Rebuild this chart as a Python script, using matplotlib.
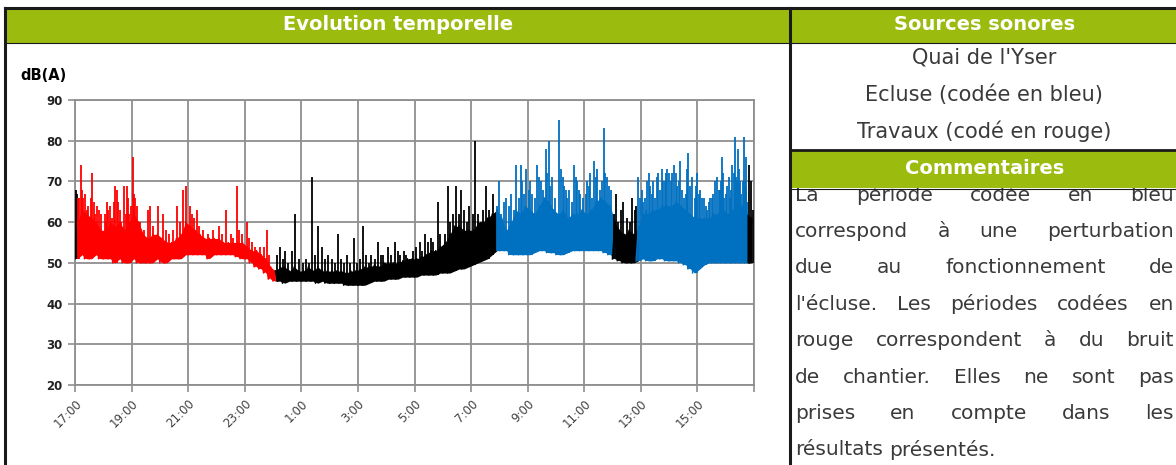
import matplotlib.pyplot as plt
import numpy as np
from matplotlib.lines import Line2D
from matplotlib.patches import Rectangle

# noise band, one value per 10 minutes starting at 17:00 (dB(A))
band_low = [51, 52, 51, 51, 52, 51,  51, 51, 50, 51, 50, 50,  51, 50, 50, 50, 50, 51,
            50, 50, 51, 51, 51, 52,  52, 52, 52, 52, 51, 52,  52, 52, 52, 52, 51.5, 51,
            51, 50, 49, 48.5, 47.5, 46,  45.5, 45.5, 45, 45.5, 45.5, 45.5,
            45.5, 45.5, 45.5, 45, 45.5, 45,  45, 45, 45, 44.5, 44.5, 44.5,
            44.5, 44.5, 45, 45.5, 45.5, 45.5,  46, 46, 46, 46.5, 46.5, 46.5,
            46.5, 47, 47, 47, 47, 47.5,  47.5, 47.5, 48, 48.5, 48.5, 49,
            49.5, 50, 50.5, 51, 52, 53,  53, 53, 52, 52, 52, 52,
            52, 52.5, 53, 53, 52.5, 52.5,  52, 52, 52.5, 53, 53, 53,
            53, 53, 53, 53, 52.5, 52,  51, 50.5, 50, 50, 50, 50.5,
            51, 50.5, 50.5, 51, 51, 50.5,  50.5, 50.5, 50, 49.5, 48.5, 47.5,
            48.5, 49.5, 50, 50, 50, 50,  50, 50, 50, 50, 50, 50]
band_top = [60, 63, 62, 61, 60, 58,  58, 60, 59, 60, 58, 60,  62, 60, 57, 56, 57, 57,
            56, 55, 55, 56, 57, 60,  59, 58, 57, 56, 56, 56,  56, 55, 55, 55, 55, 55,
            54, 53, 53, 52, 51, 49,  48, 49, 49, 48, 49, 48,
            48, 49, 48, 49, 48, 48,  48, 48, 48, 47.5, 48, 48,
            48.5, 49, 49, 49.5, 49, 50,  50, 50, 50, 50.5, 51, 51,
            51, 51.5, 52, 53, 53, 54,  55, 57, 59, 59, 58, 58,
            58, 60, 60, 61, 62, 63,  61, 58, 60, 63, 62, 64,
            63, 62, 64, 66, 65, 63,  62, 63, 61, 62, 62, 63,
            62, 63, 65, 66, 65, 64,  60, 58, 57, 58, 57, 59,
            62, 62, 63, 63, 64, 64,  64, 65, 64, 63, 62, 61,
            61, 61, 61, 62, 62, 63,  62, 63, 64, 64, 62, 61]

# single peaks: minutes after 17:00 and level
peak_min = [2, 4, 6, 12, 18, 22, 28, 36, 40, 47, 51, 55,
            63, 68, 74, 79, 85, 89, 95, 103, 108, 113, 118,
            122, 125, 128, 132, 137, 146, 154, 160, 166, 175,
            187, 193, 200, 208, 216, 222, 230, 236,
            243, 248, 253, 258, 264, 272, 282, 292,
            305, 312, 321, 330, 336, 343, 348, 354,
            364, 368, 375, 382, 393, 400, 407, 412,
            428, 435, 441, 445, 452, 460, 467, 474,
            484, 490, 496, 502, 508, 515, 523, 530, 536,
            545, 551, 558, 565, 571, 577, 584, 592, 597,
            604, 611, 617, 624, 628, 636, 643, 648, 653, 657,
            663, 670, 678, 684, 690, 697, 703, 710, 716,
            724, 731, 736, 742, 748, 754, 760, 769, 775,
            784, 790, 796, 801, 808, 814, 819, 825, 831, 836,
            844, 849, 855, 860, 866, 872, 878, 886,
            896, 900, 910, 918, 925, 930, 935, 941, 946, 953, 957,
            963, 969, 975, 980, 988, 993, 998, 1005, 1012, 1017,
            1022, 1027, 1034, 1041, 1048, 1053, 1058, 1065, 1072, 1077,
            1083, 1090, 1096, 1101, 1108, 1114, 1122, 1129, 1136,
            1143, 1147, 1152, 1158, 1163, 1170, 1176, 1181, 1187, 1190, 1194, 1198,
            1205, 1211, 1217, 1223, 1229, 1234, 1240, 1245, 1251, 1256,
            1264, 1270, 1277, 1284, 1295, 1301, 1309, 1314, 1319,
            1326, 1333, 1338, 1344, 1350, 1354, 1362, 1367, 1372, 1377,
            1383, 1389, 1394, 1400, 1404, 1408, 1413, 1418, 1422, 1426, 1430, 1434, 1438,
            9, 15, 25, 33, 43, 65, 71, 82, 92, 98, 110, 115,
            904, 914, 921, 949, 966, 984, 1001, 1008,
            1031, 1037, 1044, 1062, 1069, 1086, 1093, 1105, 1118, 1125, 1132,
            1202, 1208, 1214, 1220, 1226, 1237, 1248, 1253, 1259,
            1267, 1274, 1280, 1287, 1291, 1298, 1305, 1316,
            1323, 1330, 1341, 1347, 1357, 1365, 1369, 1375, 1380,
            1386, 1392, 1397, 1402, 1406, 1411, 1416, 1420, 1424]
peak_db = [68, 67, 66, 74, 66, 67, 64, 72, 65, 64, 63, 62,
           62, 65, 64, 61, 69, 68, 63, 69, 62, 66, 64,
           76, 67, 66, 64, 60, 58, 63, 64, 59, 64,
           62, 58, 57, 58, 64, 60, 68, 69,
           64, 62, 61, 63, 59, 58, 57, 58,
           59, 57, 63, 57, 56, 69, 58, 57,
           60, 56, 55, 54, 54, 54, 58, 52,
           52, 54, 51, 53, 50, 53, 62, 51,
           50, 51, 50, 71, 52, 59, 54, 51, 52,
           51, 50, 57, 51, 50, 52, 50, 56, 50,
           51, 59, 52, 50, 52, 51, 55, 52, 52, 50,
           54, 52, 55, 53, 52, 53, 52, 51, 53,
           54, 55, 53, 57, 55, 56, 55, 65, 57,
           57, 69, 60, 62, 69, 62, 68, 63, 60, 64,
           62, 80, 62, 60, 63, 69, 63, 67,
           64, 70, 65, 58, 67, 63, 74, 66, 74, 67, 73,
           68, 67, 66, 74, 70, 68, 78, 80, 71, 66,
           62, 85, 71, 68, 68, 65, 74, 70, 67, 66,
           67, 69, 66, 75, 73, 68, 83, 71, 68,
           62, 67, 60, 63, 65, 61, 60, 66, 63, 64, 71, 66,
           65, 63, 72, 67, 66, 71, 68, 73, 70, 73,
           70, 74, 69, 75, 67, 77, 71, 66, 72,
           68, 66, 64, 65, 66, 67, 71, 68, 76, 66,
           69, 66, 74, 81, 70, 73, 67, 81, 76, 65, 74, 70, 63,
           66, 68, 63, 66, 62, 60, 63, 65, 65, 60, 69, 62,
           62, 66, 64, 70, 70, 71, 72, 69,
           73, 69, 66, 71, 68, 70, 72, 71, 70, 72, 69,
           68, 66, 70, 69, 70, 72, 70, 72, 72,
           72, 72, 70, 68, 66, 73, 69, 69,
           67, 66, 63, 66, 70, 68, 70, 72, 67,
           71, 68, 72, 71, 78, 70, 70, 70, 69]

# colour coding: black = measurement, red = works, blue = lock
period_start = [0, 6, 424, 893, 1141, 1192, 1428]
period_end = [6, 424, 893, 1141, 1192, 1428, 1440]
period_colour = ['black', 'red', 'black', '#0070c0', 'black', '#0070c0', 'black']

hour_labels = ['17:00', '19:00', '21:00', '23:00', '1:00', '3:00',
               '5:00', '7:00', '9:00', '11:00', '13:00', '15:00', '']

sources = ["Quai de l'Yser", "Ecluse (codée en bleu)", "Travaux (codé en rouge)"]
comment_lines = ["La période codée en bleu",
                 "correspond à une perturbation",
                 "due au fonctionnement de",
                 "l'écluse. Les périodes codées en",
                 "rouge correspondent à du bruit",
                 "de chantier. Elles ne sont pas",
                 "prises en compte dans les",
                 "résultats présentés."]

W, H = 1176, 465
GREEN = '#9cbb0f'
TXT = '#3a3a3a'


def px(x, y):
    return x / W, 1 - y / H


fig = plt.figure(figsize=(W / 100, H / 100), dpi=100)
fig.patch.set_facecolor('white')

# ---- table frame
for x0, y0, x1, y1 in [(5, 9, 790, 43), (790, 9, 1180, 43), (790, 151, 1180, 188)]:
    fig.add_artist(Rectangle(px(x0, y1), (x1 - x0) / W, (y1 - y0) / H,
                             transform=fig.transFigure, facecolor=GREEN,
                             edgecolor='none', zorder=5))
for xs, ys, lw in [([5, 1180], [8, 8], 2.2), ([5, 5], [8, 470], 2.2),
                   ([790, 790], [8, 470], 2.2), ([790, 1180], [150, 150], 2.0),
                   ([5, 1180], [43.5, 43.5], 0.8), ([790, 1180], [188.5, 188.5], 0.8)]:
    fig.add_artist(Line2D([x / W for x in xs], [1 - y / H for y in ys],
                          transform=fig.transFigure, color='#1a1a1a', lw=lw, zorder=6))

for label, x, y in [("Evolution temporelle", 398, 25), ("Sources sonores", 985, 25),
                    ("Commentaires", 985, 168)]:
    fig.text(*px(x, y), label, color='white', fontsize=14, fontweight='bold',
             ha='center', va='center', zorder=7)

for label, y in zip(sources, [57, 95, 131]):
    fig.text(*px(984, y), label, color=TXT, fontsize=15, ha='center', va='center')

# justified comment text (first line partly hidden under the header, as in the page)
renderer = fig.canvas.get_renderer()
left, right = 795, 1174
for i, line in enumerate(comment_lines):
    y = 195 + i * 36.4
    words = line.split()
    texts = [fig.text(0, 0, w, color=TXT, fontsize=14.5, va='center', zorder=3) for w in words]
    widths = [t.get_window_extent(renderer).width for t in texts]
    if i < len(comment_lines) - 1:
        gap = (right - left - sum(widths)) / (len(words) - 1)
    else:
        gap = 6
    x = left
    for t, w in zip(texts, widths):
        t.set_position(px(x, y))
        x += w + gap

# ---- chart
ax = fig.add_axes([75 / W, 1 - 385 / H, 679 / W, 285 / H])
slot = np.arange(len(band_low)) * 10
xs = np.column_stack([slot, slot + 5]).ravel()
ys = np.column_stack([band_low, band_top]).ravel()
lo = np.array(band_low)
top = np.array(band_top)
pm = np.array(peak_min)
pv = np.array(peak_db)
base = lo[pm // 10]
for s, e, c in zip(period_start, period_end, period_colour):
    f = (slot + 5 >= s - 5) & (slot + 5 <= e + 5)
    ax.fill_between(slot[f] + 5, lo[f], top[f], color=c, lw=0, zorder=3)
    m = (xs >= s - 2.5) & (xs <= e + 2.5)
    ax.plot(xs[m], ys[m], color=c, lw=1.1, zorder=3)
    k = (pm >= s) & (pm < e)
    ax.vlines(pm[k], base[k], pv[k], color=c, lw=1.3, zorder=3)

ax.set_xlim(0, 1440)
ax.set_ylim(20, 90)
ax.set_xticks(np.arange(0, 1441, 120))
ax.set_xticklabels(hour_labels, rotation=45, ha='right', rotation_mode='anchor',
                   fontsize=8.5, color='#404040')
ax.set_yticks(np.arange(20, 91, 10))
ax.set_yticklabels([str(v) for v in range(20, 91, 10)], fontsize=8.5,
                   fontweight='bold', color='#222222')
ax.grid(True, color='#8f8f8f', lw=1.3, zorder=1)
ax.tick_params(axis='both', color='#8f8f8f', length=5, width=1.2, pad=4)
for sp in ax.spines.values():
    sp.set_color('#8f8f8f')
    sp.set_linewidth(1.3)
fig.text(*px(20, 75), "dB(A)", fontsize=10.5, fontweight='bold', va='center', ha='left')

fig.savefig('out.png', dpi=100)
